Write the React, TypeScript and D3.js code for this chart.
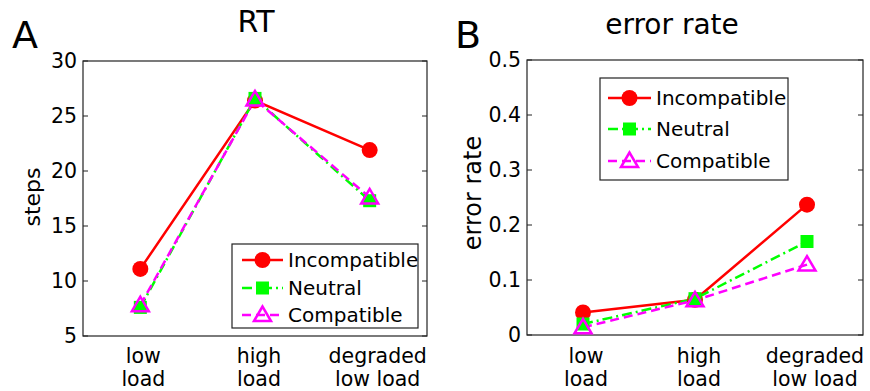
import React from 'react'
import * as d3 from 'd3'

const categories = [['low', 'load'], ['high', 'load'], ['degraded', 'low load']]
const seriesNames = ['Incompatible', 'Neutral', 'Compatible']

const rtIncompatible = [11.1, 26.4, 21.9]
const rtNeutral = [7.6, 26.6, 17.3]
const rtCompatible = [7.8, 26.5, 17.6]
const rtTicks = [5, 10, 15, 20, 25, 30]

const errIncompatible = [0.041, 0.064, 0.237]
const errNeutral = [0.02, 0.066, 0.17]
const errCompatible = [0.014, 0.063, 0.128]
const errTicks = [0, 0.1, 0.2, 0.3, 0.4, 0.5]

const font = 'DejaVu Sans, sans-serif'
const styles = [
  { color: '#ff0000', dash: 'none', marker: 'circle' },
  { color: '#00ff00', dash: '10,4,2,4', marker: 'square' },
  { color: '#ff00ff', dash: '9,5', marker: 'triangle' },
]

function Marker({ x, y, kind, color }: { x: number; y: number; kind: string; color: string }) {
  if (kind === 'circle') return <circle cx={x} cy={y} r={8} fill={color} />
  if (kind === 'square') return <rect x={x - 6.5} y={y - 6.5} width={13} height={13} fill={color} />
  const p = `M${x},${y - 8.5}L${x - 8.5},${y + 6}L${x + 8.5},${y + 6}Z`
  return <path d={p} fill="none" stroke={color} strokeWidth={2.5} />
}

function Panel(props: any) {
  const { left, right, top, bottom, domain, ticks, fmt, data, title, titleX, titleY, titleSize, letter, letterX, ylabel, ylabelX, ylabelY, ylabelSize, legend, labelDx } = props
  const x = d3.scaleLinear().domain([0.5, 3.5]).range([left, right])
  const y = d3.scaleLinear().domain(domain).range([bottom, top])
  const line = d3.line<number>().x((d, i) => x(i + 1)).y(d => y(d))
  return (
    <g fontFamily={font}>
      <text x={letterX} y={48} fontSize={38}>{letter}</text>
      <text x={titleX} y={titleY} fontSize={titleSize} textAnchor="middle">{title}</text>
      <text transform={`translate(${ylabelX},${ylabelY}) rotate(-90)`} fontSize={ylabelSize} textAnchor="middle">{ylabel}</text>
      <rect x={left} y={top} width={right - left} height={bottom - top} fill="none" stroke="#222" strokeWidth={1.2} />
      {ticks.map((t: number) => (
        <g key={t}>
          <line x1={left} x2={left + 5} y1={y(t)} y2={y(t)} stroke="#222" />
          <line x1={right - 5} x2={right} y1={y(t)} y2={y(t)} stroke="#222" />
          <text x={left - 6} y={y(t)} dy="0.36em" fontSize={20.5} textAnchor="end">{fmt(t)}</text>
        </g>
      ))}
      {categories.map((c, i) => (
        <text key={i} x={x(i + 1) + labelDx[i]} fontSize={20.5} textAnchor="middle">
          <tspan x={x(i + 1) + labelDx[i]} y={363}>{c[0]}</tspan>
          <tspan x={x(i + 1) + labelDx[i]} y={386}>{c[1]}</tspan>
        </text>
      ))}
      {data.map((s: number[], k: number) => (
        <path key={k} d={line(s) || ''} fill="none" stroke={styles[k].color} strokeWidth={2.5} strokeDasharray={styles[k].dash} />
      ))}
      {data.map((s: number[], k: number) =>
        s.map((v, i) => <Marker key={k + '-' + i} x={x(i + 1)} y={y(v)} kind={styles[k].marker} color={styles[k].color} />)
      )}
      <rect x={legend.x0} y={legend.y0} width={legend.x1 - legend.x0} height={legend.y1 - legend.y0} fill="#fff" stroke="#222" strokeWidth={1.2} />
      {seriesNames.map((n, k) => {
        const ly = legend.rows[k]
        return (
          <g key={n}>
            <line x1={legend.lx0} x2={legend.lx1} y1={ly} y2={ly} stroke={styles[k].color} strokeWidth={2.5} strokeDasharray={styles[k].dash} />
            <Marker x={(legend.lx0 + legend.lx1) / 2} y={ly} kind={styles[k].marker} color={styles[k].color} />
            <text x={legend.tx} y={ly} dy="0.36em" fontSize={20}>{n}</text>
          </g>
        )
      })}
    </g>
  )
}

export default function App() {
  return (
    <svg width={870} height={391} style={{ display: 'block', position: 'absolute', left: 0, top: 0, background: '#fff' }}>
      <Panel
        left={83} right={427} top={61} bottom={336}
        domain={[5, 30]} ticks={rtTicks} fmt={(t: number) => String(t)}
        data={[rtIncompatible, rtNeutral, rtCompatible]}
        title="RT" titleX={256} titleY={32} titleSize={30} letter="A" letterX={12}
        ylabel="steps" ylabelX={40} ylabelY={197} ylabelSize={22} labelDx={[3, 4, 8]}
        legend={{ x0: 232, x1: 418, y0: 244, y1: 328, rows: [260, 288, 315], lx0: 242, lx1: 283, tx: 288 }}
      />
      <Panel
        left={527} right={863} top={60} bottom={335}
        domain={[0, 0.5]} ticks={errTicks} fmt={(t: number) => (t === 0 ? '0' : d3.format('.1f')(t))}
        data={[errIncompatible, errNeutral, errCompatible]}
        title="error rate" titleX={672} titleY={34} titleSize={28} letter="B" letterX={455}
        ylabel="error rate" ylabelX={481} ylabelY={193} ylabelSize={24} labelDx={[3, 4, 8]}
        legend={{ x0: 600, x1: 788, y0: 78, y1: 180, rows: [98, 129, 161], lx0: 608, lx1: 651, tx: 656 }}
      />
    </svg>
  )
}
